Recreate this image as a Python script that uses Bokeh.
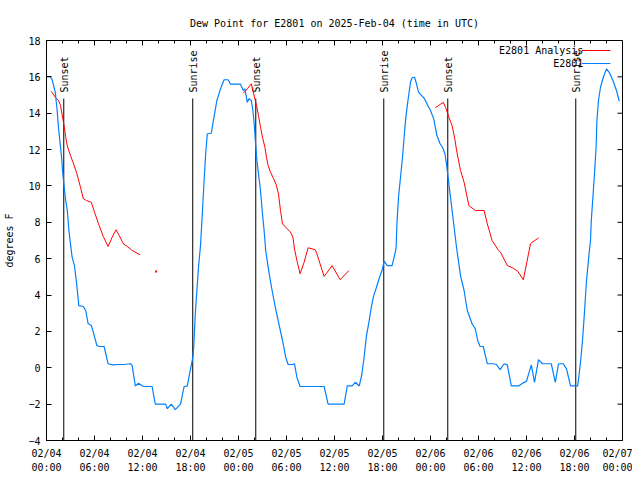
import numpy as np
from bokeh.plotting import figure
from bokeh.models import (ColumnDataSource, Range1d, FixedTicker, DatetimeTickFormatter,
                          Label, Arrow)
from bokeh.embed import file_html
from bokeh.resources import INLINE
from bokeh.core.properties import value

# ---------------- data ----------------
title_text = "Dew Point for E2801 on 2025-Feb-04 (time in UTC)"
start_time = "2025-02-04T00:00"
span_hours = 72
y_label = "degrees F"
y_ticks = [-4, -2, 0, 2, 4, 6, 8, 10, 12, 14, 16, 18]
obs_name = "E2801"
ana_name = "E2801 Analysis"

# observations: hours since start, dew point (F)
obs_hours = [0.0, 0.5, 0.7, 1.1, 1.33, 1.5, 1.9, 2.0, 2.17, 2.4, 2.6, 2.8, 3.0, 3.2, 3.5, 3.75,
             4.04, 4.6, 4.9, 5.2, 5.6, 5.9, 6.3, 6.7, 7.2, 7.7, 8.3, 9.0, 9.7, 10.5, 10.7, 11.1,
             11.5, 12.1, 13.2, 13.6, 14.9, 15.1, 15.6, 16.1, 16.75, 17.2, 17.6, 17.9, 18.3, 18.4,
             18.6, 18.8, 19.0, 19.25, 19.5, 19.7, 19.9, 20.1, 20.6, 20.9, 21.3, 21.75, 22.2, 22.7,
             23.0, 23.6, 24.25, 24.6, 24.8, 25.1, 25.3, 25.6, 25.8, 26.0, 26.1, 26.3, 26.5, 26.75,
             26.96, 27.2, 27.4, 27.8, 28.2, 28.6, 29.0, 29.5, 29.9, 30.2, 30.7, 31.0, 31.3, 31.7,
             34.7, 35.2, 37.2, 37.6, 38.2, 38.6, 39.1, 39.4, 39.7, 40.0, 40.3, 40.6, 40.9, 41.25,
             41.5, 42.0, 42.2, 42.6, 43.2, 43.5, 43.7, 43.8, 44.0, 44.25, 44.5, 44.7, 44.9, 45.1,
             45.3, 45.5, 45.7, 46.0, 46.25, 46.5, 46.9, 47.25, 47.6, 48.0, 48.4, 48.6, 48.8, 49.2,
             49.5, 49.8, 50.0, 50.2, 50.4, 50.6, 50.8, 51.0, 51.25, 51.75, 52.2, 52.6, 53.2, 53.6,
             53.9, 54.2, 54.6, 55.1, 55.9, 56.25, 56.7, 57.2, 57.6, 58.1, 59.0, 59.7, 60.0, 60.6,
             61.0, 61.5, 62.0, 63.1, 63.6, 64.0, 64.6, 65.0, 65.5, 66.4, 66.75, 67.0, 67.25, 67.5,
             67.8, 68.0, 68.1, 68.3, 68.5, 68.7, 68.8, 69.0, 69.25, 69.6, 70.0, 70.4, 70.8, 71.25,
             71.6]
obs_values = [16.0, 16.0, 15.85, 15.15, 14.15, 13.2, 11.5, 10.85, 10.1, 9.2, 8.65, 7.55, 6.8, 6.1,
              5.6, 4.7, 3.42, 3.37, 3.15, 2.43, 2.33, 1.88, 1.22, 1.17, 1.17, 0.22, 0.16, 0.18,
              0.18, 0.22, 0.13, -1.0, -0.85, -1.03, -1.03, -2.0, -2.0, -2.25, -2.0, -2.3, -2.0,
              -1.03, -1.0, -0.3, 0.58, 1.13, 2.98, 4.25, 5.53, 6.72, 8.65, 10.3, 11.77, 12.87,
              12.9, 13.7, 14.7, 15.34, 15.84, 15.84, 15.6, 15.6, 15.6, 15.25, 15.34, 14.6, 14.8,
              14.7, 14.15, 13.23, 12.5, 11.4, 10.67, 9.75, 8.65, 7.55, 6.45, 5.26, 4.25, 3.33,
              2.51, 1.5, 0.58, 0.18, 0.18, 0.22, -0.52, -1.03, -1.03, -2.0, -2.0, -1.0, -1.0,
              -0.8, -1.0, -0.4, 0.58, 1.77, 2.5, 3.33, 3.97, 4.43, 4.8, 5.44, 5.86, 5.62, 5.62,
              6.17, 6.6, 7.9, 9.38, 10.48, 11.58, 12.68, 13.69, 14.43, 15.07, 15.7, 15.95, 15.98,
              15.62, 15.16, 14.97, 14.8, 14.48, 14.15, 13.69, 13.23, 12.77, 12.32, 12.13, 11.77,
              11.2, 10.48, 9.75, 9.0, 8.28, 7.55, 6.63, 5.07, 4.25, 3.15, 2.42, 2.14, 1.5, 1.17,
              1.17, 0.22, 0.22, 0.18, -0.1, 0.22, 0.16, -1.0, -1.0, -0.8, -0.75, 0.16, -0.8, 0.45,
              0.22, 0.22, -0.8, 0.22, 0.22, -0.06, -1.0, -1.0, 0.3, 1.5, 3.06, 4.8, 6.17, 7.0,
              8.1, 9.38, 10.67, 12.13, 13.6, 14.7, 15.43, 15.98, 16.44, 16.2, 15.8, 15.25, 14.66]

# analysis: hours since start, dew point (F); NaN = missing
nan = float("nan")
ana_hours = [0.6, 1.1, 1.5, 1.75, 1.96, 2.2, 2.4, 2.6, 3.0, 3.4, 3.8, 4.25, 4.6, 5.0, 5.6, 6.0,
             6.5, 7.1, 7.7, 8.2, 8.7, 9.1, 9.6, 10.1, 10.7, 11.7, 12.7, 13.7, 14.7,
             24.6, 25.1, 25.6, 25.8, 26.0, 26.25, 26.5, 26.75, 27.0, 27.3, 27.5, 27.7, 28.0,
             28.4, 28.7, 29.0, 29.25, 29.5, 30.0, 30.5, 30.8, 31.0, 31.3, 31.7, 32.2, 32.7,
             33.6, 33.8, 34.7, 35.7, 36.7, 37.8, 40.0,
             48.6, 49.2, 49.6, 49.9, 50.3, 50.7, 51.0, 51.3, 51.75, 52.2, 52.8, 53.6, 54.7,
             55.1, 55.7, 56.5, 56.75, 57.6, 58.3, 58.9, 59.6, 60.0, 60.5, 60.7, 61.5]
ana_values = [15.2, 14.88, 14.7, 14.43, 13.9, 13.3, 12.7, 12.2, 11.67, 11.2, 10.67, 9.93, 9.3,
              9.2, 9.1, 8.56, 7.92, 7.22, 6.67, 7.18, 7.59, 7.27, 6.82, 6.67, 6.45, 6.21, nan,
              5.29, nan,
              15.1, 15.34, 15.62, 15.25, 14.88, 14.43, 13.87, 13.23, 12.68, 12.13, 11.58, 11.12,
              10.76, 10.39, 10.08, 9.56, 8.65, 7.92, 7.68, 7.46, 7.18, 6.54, 5.9, 5.17, 5.8, 6.6,
              6.49, 6.27, 5.02, 5.62, 4.84, 5.35, nan,
              14.3, 14.48, 14.6, 14.3, 13.78, 13.32, 12.68, 11.86, 10.85, 10.2, 8.92, 8.65, 8.65,
              7.92, 7.0, 6.45, 6.36, 5.62, 5.49, 5.31, 4.84, 5.71, 6.82, 6.9, 7.14]

event_hours = [2.16, 18.28, 26.16, 42.16, 50.16, 66.16]
event_names = ["Sunset", "Sunrise", "Sunset", "Sunrise", "Sunset", "Sunrise"]

# ---------------- helpers ----------------
base = np.datetime64(start_time, "ms")
base_ms = float(base.astype(np.int64))
HOUR = 3600000.0


def to_dt(hours):
    return base + (np.array(hours, dtype=float) * 3600000).round().astype("int64").astype("timedelta64[ms]")


x_start = base_ms
x_end = base_ms + span_hours * HOUR
y_min, y_max = y_ticks[0], y_ticks[-1]

FONT = "DejaVu Sans Mono"
FS = "10px"
RED = "#ff0000"
BLUE = "#0080ff"
FRAME_W, FRAME_H = 576, 400

p = figure(frame_width=FRAME_W, frame_height=FRAME_H, x_axis_type="datetime",
           x_range=Range1d(x_start, x_end), y_range=Range1d(y_min, y_max),
           output_backend="svg", toolbar_location=None,
           min_border_left=46, min_border_right=10, min_border_top=40, min_border_bottom=30,
           background_fill_color="white", border_fill_color="white")

p.title.text = title_text
p.title.align = "center"
p.title.text_font = FONT
p.title.text_font_size = FS
p.title.text_font_style = "normal"
p.title.text_color = "black"
p.title.standoff = 23

p.xgrid.visible = False
p.ygrid.visible = False
p.outline_line_color = "black"
p.outline_line_width = 1

major_h = list(range(0, span_hours + 1, 6))
minor_h = list(range(0, span_hours + 1, 2))
major = [base_ms + h * HOUR for h in major_h]
minor = [base_ms + h * HOUR for h in minor_h]
fmt = "%m/%d\n%H:%M"
xfmt = DatetimeTickFormatter(milliseconds=fmt, seconds=fmt, minsec=fmt, minutes=fmt,
                             hourmin=fmt, hours=fmt, days=fmt, months=fmt, years=fmt)
try:
    xfmt.strip_leading_zeros = False
except Exception:
    pass
try:
    xfmt.boundary_scaling = False
except Exception:
    pass

MAJ_IN, MIN_IN = 5, 3


def style_axis(ax):
    ax.axis_line_color = "black"
    ax.major_tick_line_color = "black"
    ax.minor_tick_line_color = "black"
    ax.major_tick_in = MAJ_IN
    ax.major_tick_out = 0
    ax.minor_tick_in = MIN_IN
    ax.minor_tick_out = 0
    ax.major_label_text_font = FONT
    ax.major_label_text_color = "black"
    ax.major_label_text_font_size = FS


xa = p.xaxis[0]
xa.ticker = FixedTicker(ticks=major, minor_ticks=minor)
xa.formatter = xfmt
style_axis(xa)
xa.major_label_standoff = 7
xa.major_label_text_line_height = 1.3

ya = p.yaxis[0]
ya.ticker = FixedTicker(ticks=y_ticks)
style_axis(ya)
ya.minor_tick_line_color = None
ya.major_label_standoff = 6
ya.axis_label = y_label
ya.axis_label_text_font = FONT
ya.axis_label_text_font_size = FS
ya.axis_label_text_font_style = "normal"
ya.axis_label_text_color = "black"
ya.axis_label_standoff = 10

# mirrored inward ticks on top and right border (gnuplot style), derived from the scales
px_x = (x_end - x_start) / FRAME_W      # data units per pixel (x)
px_y = (y_max - y_min) / FRAME_H        # data units per pixel (y)
top_x = major + [m for m in minor if m not in major]
top_len = [MAJ_IN * px_y] * len(major) + [MIN_IN * px_y] * (len(top_x) - len(major))
p.segment(x0=top_x, x1=top_x, y0=[y_max] * len(top_x),
          y1=[y_max - l for l in top_len], line_color="black", line_width=1)
p.segment(x0=[x_end] * len(y_ticks), x1=[x_end - MAJ_IN * px_x] * len(y_ticks),
          y0=y_ticks, y1=y_ticks, line_color="black", line_width=1)

# sunrise / sunset markers
line_top = y_min + 0.855 * (y_max - y_min)
label_base = y_min + 0.87 * (y_max - y_min)
ev = ColumnDataSource(dict(x=to_dt(event_hours), name=event_names,
                           y0=[y_min] * len(event_hours), y1=[line_top] * len(event_hours),
                           ty=[label_base] * len(event_hours)))
p.segment(x0="x", y0="y0", x1="x", y1="y1", source=ev, line_color="black", line_width=1)
p.text(x="x", y="ty", text="name", source=ev, angle=np.pi / 2, text_align="left",
       text_baseline="middle", text_font=value(FONT), text_font_size=value(FS),
       text_color="black", x_offset=1)

# analysis (red) then observations (blue)
ana_dt = to_dt(ana_hours)
ana_v = np.array(ana_values, dtype=float)
p.line(x=ana_dt, y=ana_v, line_color=RED, line_width=1)
finite = np.isfinite(ana_v)
prev_ok = np.r_[False, finite[:-1]]
next_ok = np.r_[finite[1:], False]
iso = finite & ~prev_ok & ~next_ok
if iso.any():
    p.scatter(x=ana_dt[iso], y=ana_v[iso], marker="square", size=2, line_color=None,
              fill_color=RED)

p.line(x=to_dt(obs_hours), y=obs_values, line_color=BLUE, line_width=1.2)


# legend (gnuplot style: text right-aligned, sample to the right)
def fx(frac):
    return x_start + frac * (x_end - x_start)


def fy(frac_from_top):
    return y_max - frac_from_top * (y_max - y_min)


legend_items = [(ana_name, RED), (obs_name, BLUE)]
for i, (name, col) in enumerate(legend_items):
    yy = fy(0.025 + i * 0.0325)
    p.add_layout(Label(x=fx(0.932), y=yy, text=name, text_align="right",
                       text_baseline="middle", text_font=FONT, text_font_size=FS,
                       text_color="black"))
    p.add_layout(Arrow(end=None, x_start=fx(0.929), y_start=yy, x_end=fx(0.979), y_end=yy,
                       line_color=col, line_width=1.2))

open("out.html", "w").write(file_html(p, INLINE))
